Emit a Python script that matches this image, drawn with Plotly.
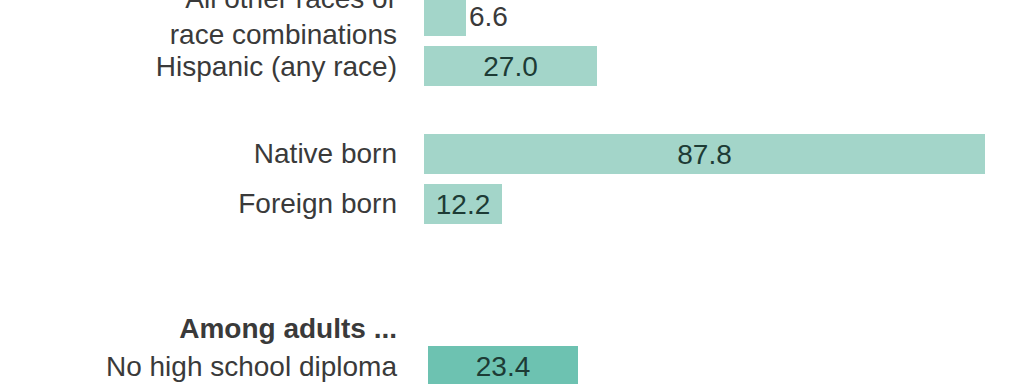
import plotly.graph_objects as go

# ---- data ----
upper_labels = ["All other races or<br>race combinations", "Hispanic (any race)",
                "Native born", "Foreign born"]
upper_values = [6.6, 27.0, 87.8, 12.2]
header_label = "Among adults ..."
lower_labels = ["No high school diploma"]
lower_values = [23.4]

# ---- layout helpers (row structure, not data) ----
rows = upper_labels + ["<b>" + header_label + "</b>"] + lower_labels
spacers_before = [0, 3, 6, 3, 9, 2]
cat_order = []
k = 1
for r, g in zip(rows, spacers_before):
    for _ in range(g):
        cat_order.append("\u200b" * k)
        k += 1
    cat_order.append(r)

LIGHT = "#a3d5c9"
DARK = "#6dc2b1"
INTXT = "#1d3b35"
LBL = "#3a3a3a"
FONT = "Liberation Sans"
LBLSIZE = 28
VALSIZE = 28

W, H = 1024, 384
L, R = 424, 25
pw = W - L - R
xmax = 90
px_per = pw / xmax
shift = 4  # lower panel bars begin slightly to the right

fig = go.Figure()
fig.add_trace(go.Bar(
    x=upper_values, y=upper_labels, orientation="h",
    marker=dict(color=LIGHT, line=dict(width=0)),
    width=3.2,
    texttemplate="%{x:.1f}",
    textposition=["outside", "inside", "inside", "inside"],
    insidetextanchor="middle",
    insidetextfont=dict(color=INTXT, size=VALSIZE, family=FONT),
    outsidetextfont=dict(color=LBL, size=VALSIZE, family=FONT),
    textangle=0, constraintext="none", cliponaxis=False,
    xaxis="x", yaxis="y", hoverinfo="skip",
))
fig.add_trace(go.Bar(
    x=lower_values, y=lower_labels, orientation="h",
    marker=dict(color=DARK, line=dict(width=0)),
    width=3.2,
    texttemplate="%{x:.1f}",
    textposition="inside",
    insidetextanchor="middle",
    insidetextfont=dict(color=INTXT, size=VALSIZE, family=FONT),
    textangle=0, constraintext="none", cliponaxis=False,
    xaxis="x2", yaxis="y2", hoverinfo="skip",
))

slot = 12.5
top_idx = -16 / slot
yrange = [top_idx + H / slot, top_idx]

common_y = dict(type="category", categoryorder="array", categoryarray=cat_order,
                range=yrange, showgrid=False, zeroline=False, showline=False,
                ticks="", automargin=False, domain=[0, 1],
                tickfont=dict(family=FONT, size=LBLSIZE, color=LBL))

fig.update_layout(
    width=W, height=H,
    margin=dict(l=L, r=R, t=0, b=0, pad=0),
    paper_bgcolor="white", plot_bgcolor="rgba(0,0,0,0)",
    showlegend=False,
    bargap=0,
    xaxis=dict(range=[0, xmax], visible=False, domain=[0, 1], anchor="y"),
    xaxis2=dict(range=[0, xmax - shift / px_per], visible=False,
                domain=[shift / pw, 1], anchor="y2"),
    yaxis=dict(**common_y, anchor="x", tickmode="array",
               tickvals=upper_labels + [rows[4]], ticktext=upper_labels + [rows[4]],
               ticklabelstandoff=26),
    yaxis2=dict(**common_y, anchor="x2", tickmode="array",
                tickvals=lower_labels, ticktext=lower_labels,
                ticklabelstandoff=30),
)

fig.write_html("out.html")
